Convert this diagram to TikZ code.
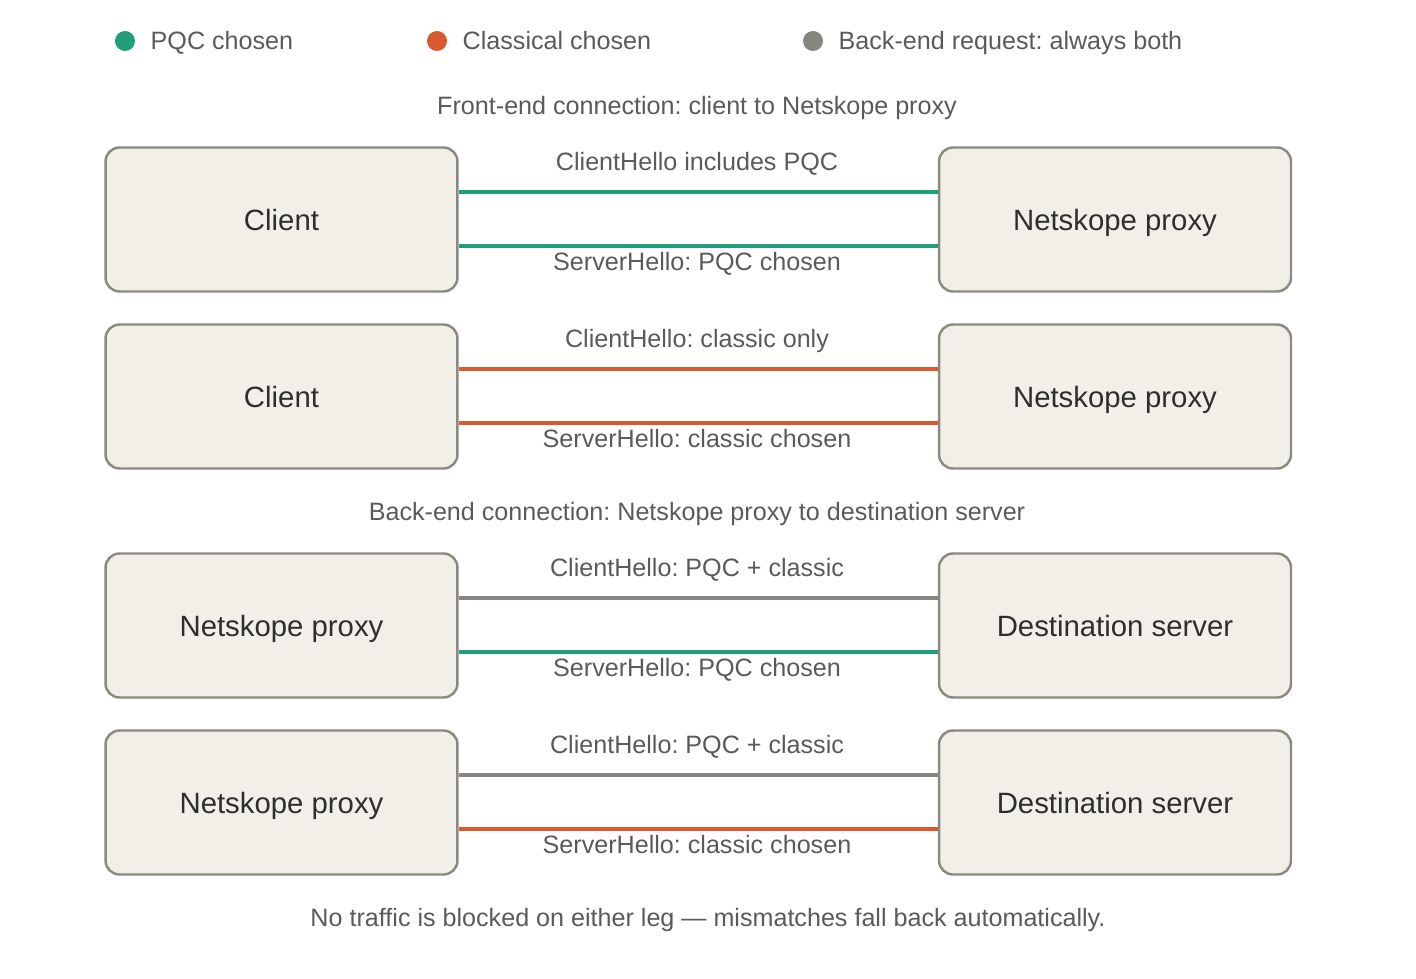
\documentclass[tikz,border=0pt]{standalone}
\usepackage{fontspec}
\setmainfont{Liberation Sans}
\usetikzlibrary{positioning}
\definecolor{pqcgreen}{HTML}{1F9E77}
\definecolor{classicorange}{HTML}{D95A2E}
\definecolor{bothgray}{HTML}{86857E}
\definecolor{boxfill}{HTML}{F1EFE8}
\definecolor{boxline}{HTML}{8A8982}
\definecolor{labeltext}{HTML}{5A5A5A}
\frenchspacing

\begin{document}
\begin{tikzpicture}[x=0.02cm, y=-0.02cm,
  box/.style={draw=boxline, line width=1.4pt, fill=boxfill, rounded corners=0.28cm,
    minimum width=7.04cm, minimum height=2.88cm, text=black!82,
    text height=12pt, text depth=0pt, font=\fontsize{16.7}{20}\selectfont},
  lbl/.style={text=labeltext, font=\fontsize{14.3}{17}\selectfont, inner sep=0pt,
    text height=10.2pt, text depth=0pt},
  dot/.style={circle, inner sep=0pt, minimum size=0.4cm},
  leg/.style={line width=2.3pt}]
  \useasboundingbox (0,0) rectangle (1416,979);
  % Legend
  \node[dot, fill=pqcgreen] (dpqc) at (125,41) {};
  \node[lbl, right=0.3cm of dpqc] (lpqc) {PQC chosen};
  \node[dot, fill=classicorange] (dclassic) at (437,41) {};
  \node[lbl, right=0.3cm of dclassic] (lclassic) {Classical chosen};
  \node[dot, fill=bothgray] (dboth) at (813,41) {};
  \node[lbl, right=0.3cm of dboth] (lboth) {Back-end request: always both};
  % Front-end connection
  \node[lbl] (front) at (697,106) {Front-end connection: client to Netskope proxy};
  \node[box] (client1) at (281.5,219.5) {Client};
  \node[box] (proxy1) at (1115,219.5) {Netskope proxy};
  \draw[leg, pqcgreen] ([yshift=0.55cm]client1.east) -- ([yshift=0.55cm]proxy1.west);
  \draw[leg, pqcgreen] ([yshift=-0.53cm]client1.east) -- ([yshift=-0.53cm]proxy1.west);
  \node[lbl] (hello1) at (697,162) {ClientHello includes PQC};
  \node[lbl] (reply1) at (697,262) {ServerHello: PQC chosen};
  \node[box] (client2) at (281.5,396.5) {Client};
  \node[box] (proxy2) at (1115,396.5) {Netskope proxy};
  \draw[leg, classicorange] ([yshift=0.55cm]client2.east) -- ([yshift=0.55cm]proxy2.west);
  \draw[leg, classicorange] ([yshift=-0.53cm]client2.east) -- ([yshift=-0.53cm]proxy2.west);
  \node[lbl] (hello2) at (697,339) {ClientHello: classic only};
  \node[lbl] (reply2) at (697,439) {ServerHello: classic chosen};
  % Back-end connection
  \node[lbl] (back) at (697,512) {Back-end connection: Netskope proxy to destination server};
  \node[box] (proxy3) at (281.5,625.5) {Netskope proxy};
  \node[box] (server3) at (1115,625.5) {Destination server};
  \draw[leg, bothgray] ([yshift=0.55cm]proxy3.east) -- ([yshift=0.55cm]server3.west);
  \draw[leg, pqcgreen] ([yshift=-0.53cm]proxy3.east) -- ([yshift=-0.53cm]server3.west);
  \node[lbl] (hello3) at (697,568) {ClientHello: PQC + classic};
  \node[lbl] (reply3) at (697,668) {ServerHello: PQC chosen};
  \node[box] (proxy4) at (281.5,802.5) {Netskope proxy};
  \node[box] (server4) at (1115,802.5) {Destination server};
  \draw[leg, bothgray] ([yshift=0.55cm]proxy4.east) -- ([yshift=0.55cm]server4.west);
  \draw[leg, classicorange] ([yshift=-0.53cm]proxy4.east) -- ([yshift=-0.53cm]server4.west);
  \node[lbl] (hello4) at (697,745) {ClientHello: PQC + classic};
  \node[lbl] (reply4) at (697,845) {ServerHello: classic chosen};
  % Footer
  \node[lbl] (footer) at (708,918) {No traffic is blocked on either leg --- mismatches fall back automatically.};
\end{tikzpicture}
\end{document}
